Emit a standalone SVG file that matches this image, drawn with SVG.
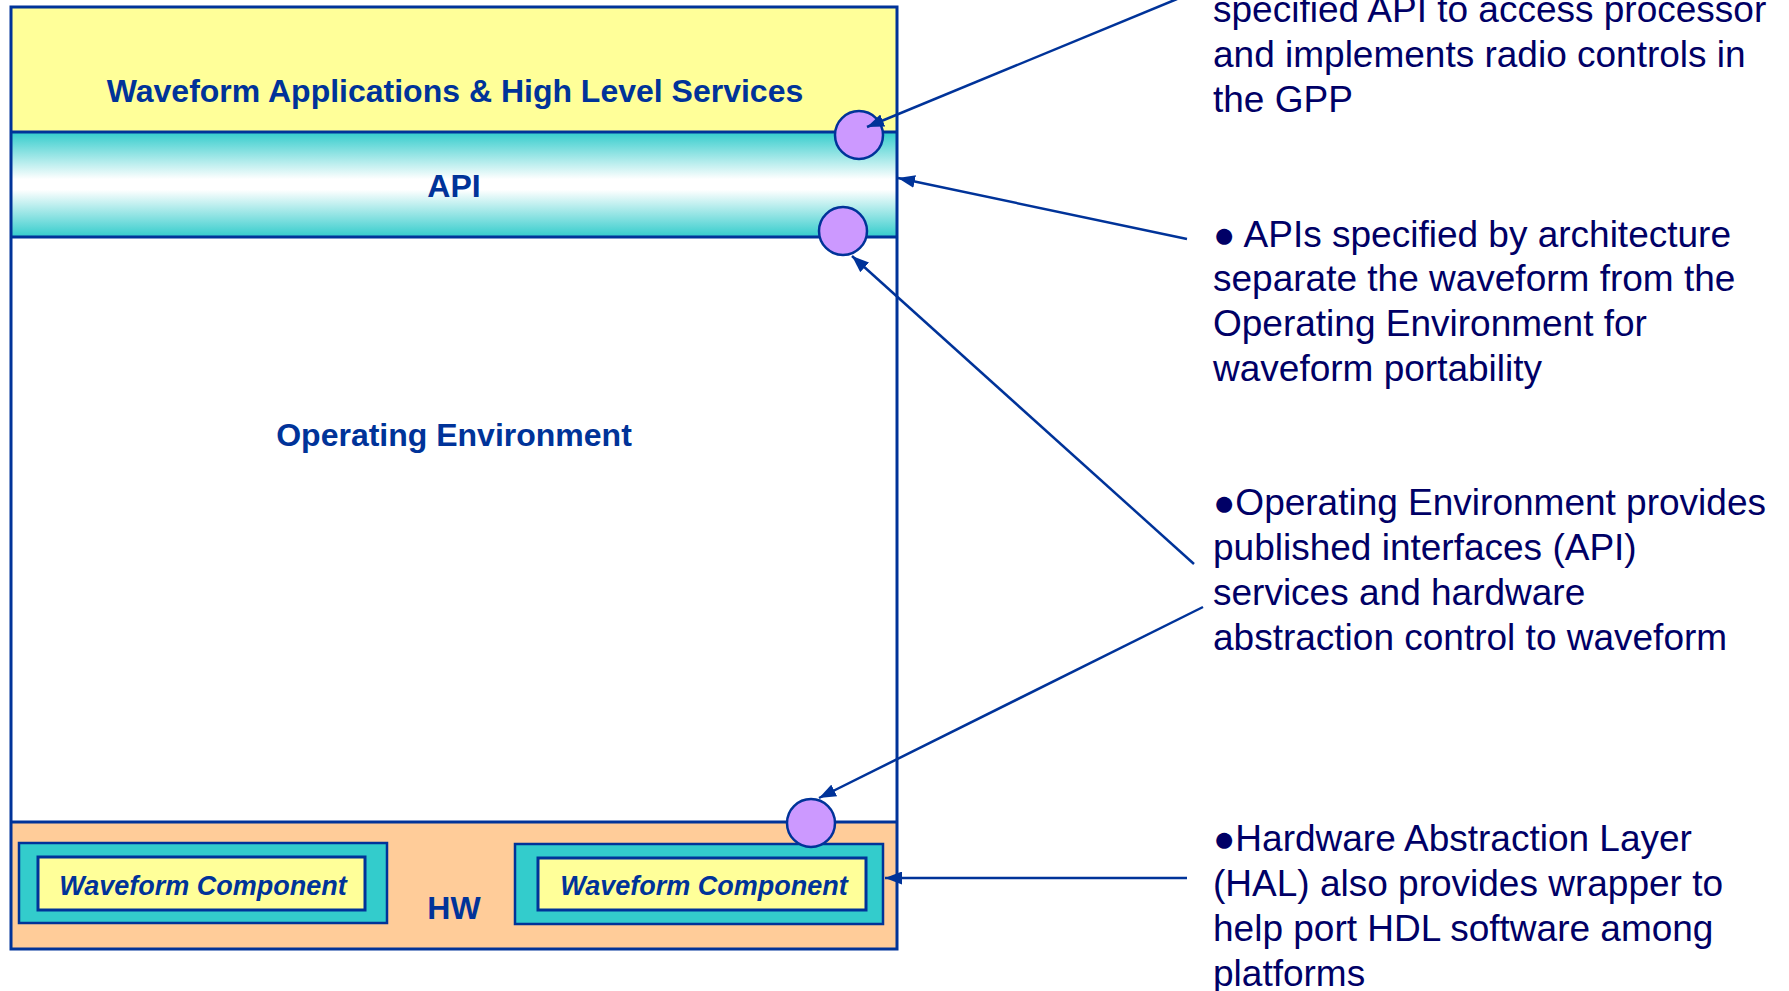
<svg xmlns="http://www.w3.org/2000/svg" width="1789" height="991" viewBox="0 0 1789 991">
<style>
.lbl{font-family:"Liberation Sans",Arial,sans-serif;font-weight:bold;fill:#003399;text-anchor:middle}
.big{font-size:32px}
.wc{font-size:27px;font-style:italic}
.note{font-family:"Liberation Sans",Arial,sans-serif;font-size:37px;fill:#000066}
.edge{fill:none;stroke:#003399;stroke-width:3}
.port{fill:#CC99FF;stroke:#003399;stroke-width:2.5}
.conn{fill:none;stroke:#003399;stroke-width:2.5;marker-end:url(#ah)}
</style>
<defs>
<linearGradient id="apiGrad" x1="0" y1="0" x2="0" y2="1">
<stop offset="0" stop-color="#33CCCC"/>
<stop offset="0.45" stop-color="#FFFFFF"/>
<stop offset="0.55" stop-color="#FFFFFF"/>
<stop offset="1" stop-color="#33CCCC"/>
</linearGradient>
<marker id="ah" viewBox="0 0 17 13" refX="17" refY="6.5" markerWidth="17" markerHeight="13" markerUnits="userSpaceOnUse" orient="auto">
<path d="M0,0 L17,6.5 L0,13 Z" fill="#003399"/>
</marker>
</defs>
<rect width="1789" height="991" fill="#FFFFFF"/>

<g id="layer-waveform-apps">
<rect x="11" y="7" width="886" height="125" fill="#FFFF99"/>
<text class="lbl big" x="455" y="102">Waveform Applications &amp; High Level Services</text>
</g>
<g id="layer-api">
<rect x="11" y="132" width="886" height="105" fill="url(#apiGrad)"/>
<text class="lbl big" x="454" y="197">API</text>
</g>
<g id="layer-oe">
<rect x="11" y="237" width="886" height="585" fill="#FFFFFF"/>
<text class="lbl big" x="454" y="446">Operating Environment</text>
</g>
<g id="layer-hw">
<rect x="11" y="822" width="886" height="127" fill="#FFCC99"/>
<text class="lbl big" x="454" y="919">HW</text>
</g>
<g id="frame">
<line class="edge" x1="11" y1="132" x2="897" y2="132"/>
<line class="edge" x1="11" y1="237" x2="897" y2="237"/>
<line class="edge" x1="11" y1="822" x2="897" y2="822"/>
<rect class="edge" x="11" y="7" width="886" height="942"/>
</g>
<g id="wc-left">
<rect x="19" y="843" width="368" height="80" fill="#33CCCC" stroke="#003399" stroke-width="2.5"/>
<rect x="38" y="857" width="327" height="53" fill="#FFFF99" stroke="#003399" stroke-width="3"/>
<text class="lbl wc" x="203" y="895">Waveform Component</text>
</g>
<g id="wc-right">
<rect x="515" y="844" width="368" height="80" fill="#33CCCC" stroke="#003399" stroke-width="2.5"/>
<rect x="538" y="858" width="328" height="52" fill="#FFFF99" stroke="#003399" stroke-width="3"/>
<text class="lbl wc" x="704" y="895">Waveform Component</text>
</g>
<g id="port-apps"><circle class="port" cx="859" cy="135" r="24"/></g>
<g id="port-api"><circle class="port" cx="843" cy="231" r="24"/></g>
<g id="port-hw"><circle class="port" cx="811" cy="823" r="24"/></g>

<g id="connectors">
<line class="conn" x1="1177" y1="-1" x2="867" y2="127"/>
<line class="conn" x1="1187" y1="239" x2="898" y2="178"/>
<line class="conn" x1="1194" y1="564" x2="852" y2="256"/>
<line class="conn" x1="1203" y1="607" x2="819" y2="798"/>
<line class="conn" x1="1187" y1="878" x2="885" y2="878"/>
</g>

<g id="note-gpp">
<text class="note" x="1213" y="22">specified API to access processor</text>
<text class="note" x="1213" y="67">and implements radio controls in</text>
<text class="note" x="1213" y="112">the GPP</text>
</g>
<g id="note-api">
<text class="note" x="1213" y="247">● APIs specified by architecture</text>
<text class="note" x="1213" y="291">separate the waveform from the</text>
<text class="note" x="1213" y="336">Operating Environment for</text>
<text class="note" x="1213" y="381">waveform portability</text>
</g>
<g id="note-oe">
<text class="note" x="1213" y="515">●Operating Environment provides</text>
<text class="note" x="1213" y="560">published interfaces (API)</text>
<text class="note" x="1213" y="605">services and hardware</text>
<text class="note" x="1213" y="650">abstraction control to waveform</text>
</g>
<g id="note-hal">
<text class="note" x="1213" y="851">●Hardware Abstraction Layer</text>
<text class="note" x="1213" y="896">(HAL) also provides wrapper to</text>
<text class="note" x="1213" y="941">help port HDL software among</text>
<text class="note" x="1213" y="986">platforms</text>
</g>
</svg>
